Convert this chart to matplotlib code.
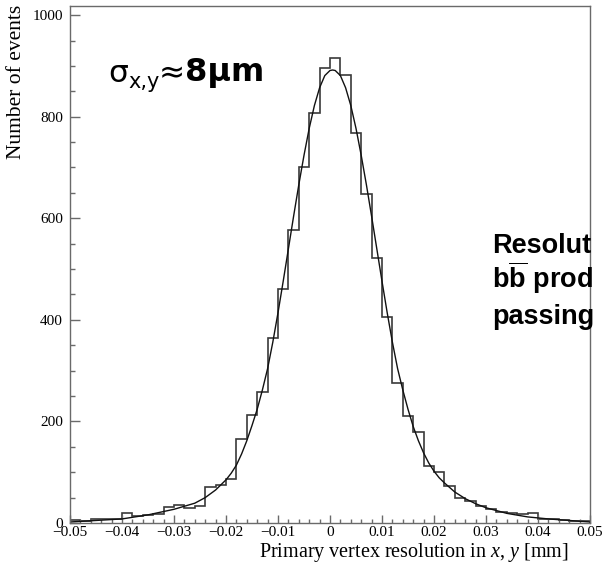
import matplotlib
matplotlib.use("Agg")
import matplotlib.pyplot as plt
import numpy as np
from matplotlib.ticker import MultipleLocator, FixedLocator

# ---------------- data ----------------
bin_edges = [round(-0.05 + 0.002 * i, 3) for i in range(51)]
counts = [5, 4, 7, 8, 7, 19, 13, 15, 18, 32,
          35, 29, 33, 70, 75, 86, 165, 212, 258, 364,
          460, 577, 701, 808, 895, 915, 883, 768, 647, 522,
          405, 276, 211, 180, 113, 100, 72, 49, 44, 34,
          28, 22, 20, 18, 20, 8, 7, 6, 4, 3]

fit_x = [-0.050, -0.045, -0.040, -0.035, -0.030, -0.026, -0.024, -0.022, -0.020, -0.019,
         -0.018, -0.017, -0.016, -0.015, -0.014, -0.013, -0.012, -0.011, -0.010, -0.009,
         -0.008, -0.007, -0.006, -0.005, -0.004, -0.003, -0.002, -0.001, 0.000, 0.0005,
         0.001, 0.002, 0.003, 0.004, 0.005, 0.006, 0.007, 0.008, 0.009, 0.010,
         0.011, 0.012, 0.013, 0.014, 0.015, 0.016, 0.017, 0.018, 0.019, 0.020,
         0.021, 0.022, 0.024, 0.026, 0.028, 0.030, 0.034, 0.038, 0.042, 0.046, 0.050]
fit_y = [2, 5, 8, 16, 27, 39, 50, 65, 85, 98,
         114, 136, 162, 192, 224, 262, 304, 356, 414, 476,
         540, 604, 666, 724, 777, 822, 857, 881, 891, 892,
         891, 881, 857, 822, 777, 724, 666, 604, 540, 476,
         414, 356, 304, 262, 224, 190, 162, 138, 118, 102,
         89, 79, 61, 48, 38, 30, 19, 12, 8, 5, 2]

xtick_vals = [-0.05, -0.04, -0.03, -0.02, -0.01, 0.0, 0.01, 0.02, 0.03, 0.04, 0.05]
xtick_labels = ["\u22120.05", "\u22120.04", "\u22120.03", "\u22120.02", "\u22120.01", "0",
                "0.01", "0.02", "0.03", "0.04", "0.05"]
ytick_vals = [0, 200, 400, 600, 800, 1000]
ytick_labels = ["0", "200", "400", "600", "800", "1000"]

# ---------------- style ----------------
plt.rcParams['mathtext.fontset'] = 'custom'
plt.rcParams['mathtext.it'] = 'Liberation Serif:italic'
plt.rcParams['mathtext.rm'] = 'Liberation Serif'
plt.rcParams['mathtext.bf'] = 'Liberation Sans:bold'

serif = 'Liberation Serif'
sans = 'Liberation Sans'
wide_sans = 'DejaVu Sans'
frame_col = '#6a6a6a'

fig = plt.figure(figsize=(6.05, 5.63), dpi=100)
ax = fig.add_axes([70 / 605, 1 - 523 / 563, 520 / 605, 517 / 563])

ax.stairs(counts, bin_edges, color='#3a3a3a', linewidth=1.2)
ax.plot(fit_x, fit_y, color='#111111', linewidth=1.0)

ax.set_xlim(-0.05, 0.05)
ax.set_ylim(0, 1018)

for s in ax.spines.values():
    s.set_color(frame_col)
    s.set_linewidth(1.0)

ax.xaxis.set_major_locator(FixedLocator(xtick_vals))
ax.set_xticklabels(xtick_labels, fontfamily=serif, fontsize=11)
ax.xaxis.set_minor_locator(MultipleLocator(0.002))
ax.yaxis.set_major_locator(FixedLocator(ytick_vals))
ax.set_yticklabels(ytick_labels, fontfamily=serif, fontsize=11)
ax.yaxis.set_minor_locator(MultipleLocator(50))

ax.tick_params(axis='x', which='major', direction='in', length=5.8, width=1.0,
               color=frame_col, pad=2, labelcolor='black')
ax.tick_params(axis='x', which='minor', direction='in', length=2.9, width=1.0,
               color=frame_col)
ax.tick_params(axis='y', which='major', direction='in', length=7.2, width=1.0,
               color=frame_col, pad=5, labelcolor='black')
ax.tick_params(axis='y', which='minor', direction='in', length=3.6, width=1.0,
               color=frame_col)
ax.tick_params(top=False, right=False, which='both')

# axis labels (ROOT style: aligned to the end)
fig.text(569 / 605, 1 - 540.5 / 563, r"Primary vertex resolution in $x$, $y$ [mm]",
         ha='right', va='top', fontsize=14.5, fontfamily=serif)
fig.text(17 / 605, 1 - 5 / 563, "Number of events", rotation=90,
         ha='center', va='top', fontsize=15.5, fontfamily=serif)

# sigma annotation
t1 = fig.text(108 / 605, 1 - 82 / 563, "\u03c3", fontsize=22.5, fontfamily=wide_sans,
              va='baseline', ha='left')
t2 = ax.annotate("x,y", xy=(1, 0), xycoords=t1, fontsize=15, fontfamily=wide_sans,
                 va='baseline', ha='left', xytext=(0.5, 0), textcoords='offset points')
t3 = ax.annotate("\u2248", xy=(1, 0), xycoords=(t2, t1), fontsize=22.5, fontfamily=wide_sans,
                 va='bottom', ha='left', xytext=(-1, 0), textcoords='offset points')
t4 = ax.annotate("8\u03bcm", xy=(1, 0), xycoords=t3, fontsize=23, fontfamily=wide_sans,
                 fontweight='bold', va='bottom', ha='left')

# right-hand side text (only the part visible in the reference)
side_lines = ["Resolut", r"b$\mathbf{\overline{b}}$ prod", "passing"]
for i, line in enumerate(side_lines):
    fig.text(492 / 605, 1 - (253 + 35.5 * i) / 563, line, fontsize=19.5,
             fontfamily=sans, fontweight='bold', ha='left', va='baseline')

fig.savefig("out.png", dpi=100)
